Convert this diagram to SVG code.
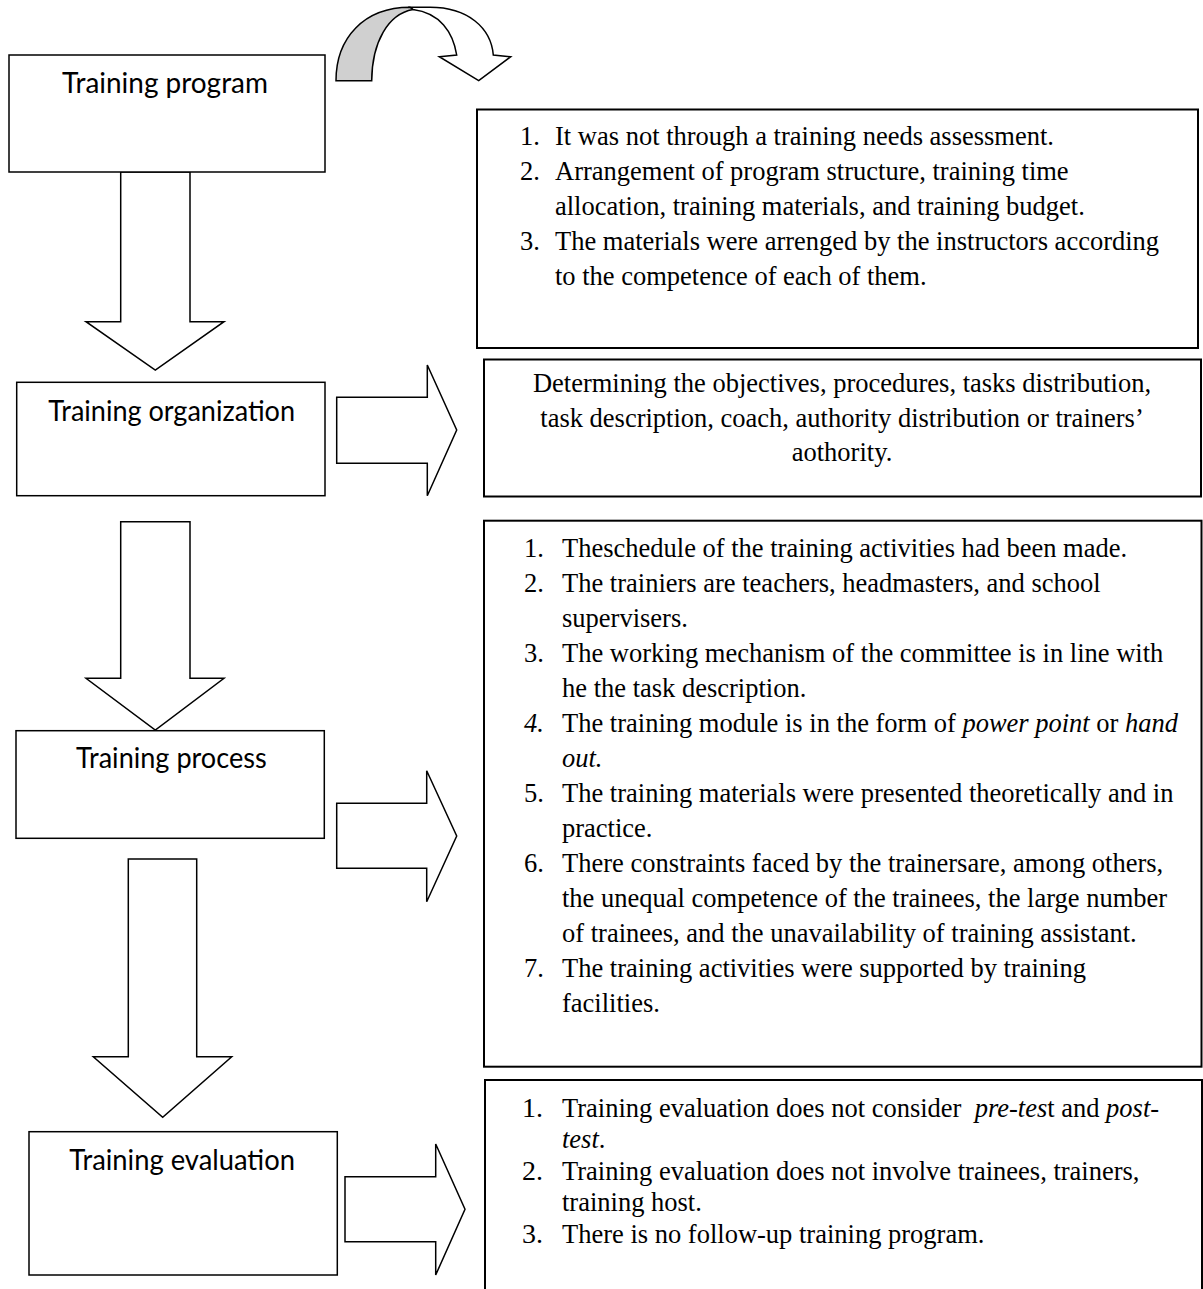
<svg xmlns="http://www.w3.org/2000/svg" width="1203" height="1289" viewBox="0 0 1203 1289">
<style>
.box{fill:#fff;stroke:#000;stroke-width:1.5}
.tbox{fill:#fff;stroke:#000;stroke-width:2}
.arrow{fill:#fff;stroke:#000;stroke-width:1.5;stroke-linejoin:miter}
.lbl{font-family:Lato,'Open Sans',sans-serif;font-size:28.5px;fill:#000}
.tx{font-family:'Liberation Serif','Times New Roman',serif;font-size:26.5px;fill:#000}
.it{font-style:italic}
.ctr{text-anchor:middle}
</style>
<rect width="1203" height="1289" fill="#fff"/>
<g id="connectors">
  <g id="curved-arrow">
    <path class="arrow" d="M410,7.3 L430,7.3 C468,7.3 491,28 493.3,55 L510.7,56.7 L478.7,80.7 L439.3,56.7 L456.7,55 C453,32 440,13 413,9.5 Z"/>
    <path d="M336,80.7 C336,38 364,7.3 410,7.3 L413,9.5 C388,14 372,42 371.7,80.7 Z" fill="#d0d0d0" stroke="#000" stroke-width="1.5"/>
  </g>
  <polygon id="arrow-program-organization" class="arrow" points="120.7,172 190,172 190,321.7 224,321.7 155.3,370 86,321.7 120.7,321.7"/>
  <polygon id="arrow-organization-process" class="arrow" points="120.7,521.7 190,521.7 190,678.3 224,678.3 155.3,730 86,678.3 120.7,678.3"/>
  <polygon id="arrow-process-evaluation" class="arrow" points="128.3,859 196.7,859 196.7,1056.7 231.7,1056.7 162.7,1117.3 93.3,1056.7 128.3,1056.7"/>
  <polygon id="arrow-organization-detail" class="arrow" points="336.7,397.3 427.3,397.3 427.3,365 456.7,430 427.3,495.7 427.3,463.3 336.7,463.3"/>
  <polygon id="arrow-process-detail" class="arrow" points="336.7,803.3 426.7,803.3 426.7,770.7 456.7,836 426.7,901.7 426.7,868.3 336.7,868.3"/>
  <polygon id="arrow-evaluation-detail" class="arrow" points="345,1176.7 435.7,1176.7 435.7,1144 465,1209.3 435.7,1275 435.7,1241.7 345,1241.7"/>
</g>
<g id="node-program">
  <rect class="box" x="9" y="55" width="316" height="117"/>
  <text class="lbl" x="62" y="93.3" textLength="206" lengthAdjust="spacingAndGlyphs">Training program</text>
</g>
<g id="node-organization">
  <rect class="box" x="16.7" y="382.3" width="308.3" height="113.4"/>
  <text class="lbl" x="48.3" y="421" textLength="246.7" lengthAdjust="spacingAndGlyphs">Training organization</text>
</g>
<g id="node-process">
  <rect class="box" x="16" y="730.7" width="308.3" height="107.6"/>
  <text class="lbl" x="76" y="768.3" textLength="190.7" lengthAdjust="spacingAndGlyphs">Training process</text>
</g>
<g id="node-evaluation">
  <rect class="box" x="29" y="1131.7" width="308.3" height="143.3"/>
  <text class="lbl" x="69.3" y="1170" textLength="225.7" lengthAdjust="spacingAndGlyphs">Training evaluation</text>
</g>
<g id="detail-program">
  <rect class="tbox" x="477" y="109.5" width="721" height="238.5"/>
  <g class="tx">
    <text x="520" y="145">1.</text><text x="555" y="145">It was not through a training needs assessment.</text>
    <text x="520" y="180">2.</text><text x="555" y="180">Arrangement of program structure, training time</text>
    <text x="555" y="215">allocation, training materials, and training budget.</text>
    <text x="520" y="250">3.</text><text x="555" y="250">The materials were arrenged by the instructors according</text>
    <text x="555" y="285">to the competence of each of them.</text>
  </g>
</g>
<g id="detail-organization">
  <rect class="tbox" x="484" y="359.5" width="717" height="137"/>
  <g class="tx ctr">
    <text x="842" y="392">Determining the objectives, procedures, tasks distribution,</text>
    <text x="842" y="427">task description, coach, authority distribution or trainers’</text>
    <text x="842" y="461">aothority.</text>
  </g>
</g>
<g id="detail-process">
  <rect class="tbox" x="484" y="520.7" width="717.5" height="546"/>
  <g class="tx">
    <text x="524" y="556.7">1.</text><text x="562" y="556.7">Theschedule of the training activities had been made.</text>
    <text x="524" y="591.7">2.</text><text x="562" y="591.7">The trainiers are teachers, headmasters, and school</text>
    <text x="562" y="626.7">supervisers.</text>
    <text x="524" y="661.7">3.</text><text x="562" y="661.7">The working mechanism of the committee is in line with</text>
    <text x="562" y="696.7">he the task description.</text>
    <text x="524" y="731.7" class="it">4.</text><text x="562" y="731.7">The training module is in the form of <tspan class="it">power point</tspan> or <tspan class="it">hand</tspan></text>
    <text x="562" y="766.7" class="it">out.</text>
    <text x="524" y="801.7">5.</text><text x="562" y="801.7">The training materials were presented theoretically and in</text>
    <text x="562" y="836.7">practice.</text>
    <text x="524" y="871.7">6.</text><text x="562" y="871.7">There constraints faced by the trainersare, among others,</text>
    <text x="562" y="906.7">the unequal competence of the trainees, the large number</text>
    <text x="562" y="941.7">of trainees, and the unavailability of training assistant.</text>
    <text x="524" y="976.7">7.</text><text x="562" y="976.7">The training activities were supported by training</text>
    <text x="562" y="1011.7">facilities.</text>
  </g>
</g>
<g id="detail-evaluation">
  <rect class="tbox" x="485" y="1080" width="717" height="230"/>
  <g class="tx">
    <text x="522" y="1117" font-size="28">1.</text><text x="562" y="1117">Training evaluation does not consider <tspan class="it" dx="6.6">pre-tes</tspan>t and <tspan class="it">post-</tspan></text>
    <text x="562" y="1148"><tspan class="it">test</tspan>.</text>
    <text x="522" y="1180" font-size="28">2.</text><text x="562" y="1180">Training evaluation does not involve trainees, trainers,</text>
    <text x="562" y="1211">training host.</text>
    <text x="522" y="1243" font-size="28">3.</text><text x="562" y="1243">There is no follow-up training program.</text>
  </g>
</g>
</svg>
